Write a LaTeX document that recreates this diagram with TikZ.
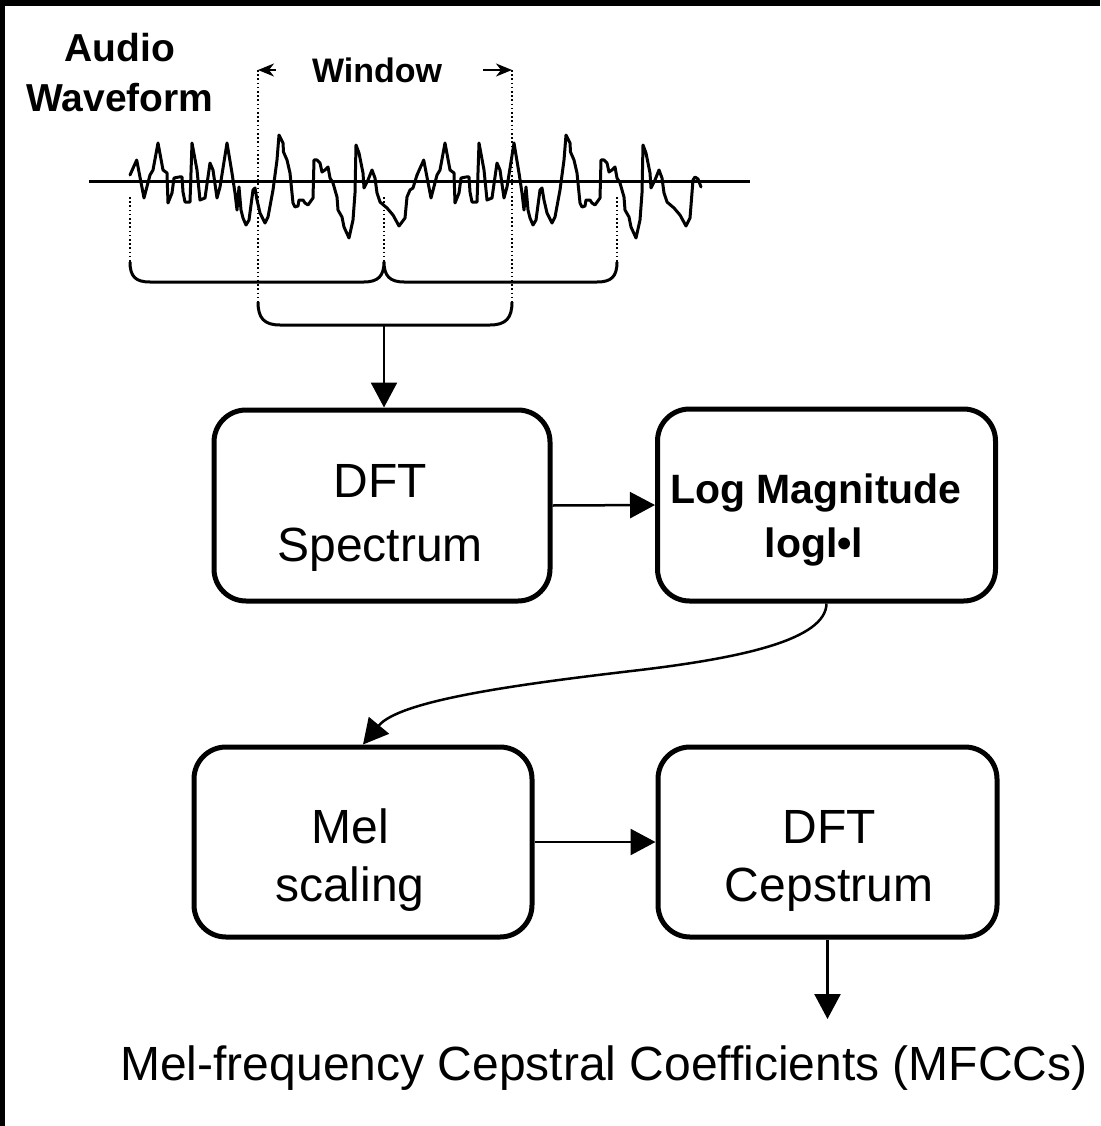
\documentclass[tikz,border=0pt]{standalone}
\usepackage{fontspec}
\setmainfont{Liberation Sans}
\usetikzlibrary{arrows.meta}
\begin{document}
\begin{tikzpicture}[x=1pt,y=-1pt,
  box/.style={draw, line width=5pt, rounded corners=32pt, inner sep=0pt},
  reg/.style={inner sep=0pt, font=\fontsize{48}{56}\selectfont},
  boldbig/.style={inner sep=0pt, font=\fontsize{39}{46}\selectfont\bfseries},
  boldmid/.style={inner sep=0pt, font=\fontsize{41}{48}\selectfont\bfseries},
  boldsmall/.style={inner sep=0pt, font=\fontsize{34}{40}\selectfont\bfseries},
  conn/.style={line width=2.5pt, -{Triangle[length=25pt,width=26pt]}},
  warrow/.style={line width=2pt, -{Stealth[length=16pt,width=13pt,inset=5pt]}},
  wave/.style={line width=3pt, line join=round, line cap=round},
  bracepath/.style={line width=3pt, line join=round},
  dotline/.style={line width=2.2pt, dash pattern=on 1.6pt off 2.6pt}]

\useasboundingbox (0,0) rectangle (1100,1126);
\fill[white] (0,0) rectangle (1100,1126);
\fill[black] (0,0) rectangle (1100,6);
\fill[black] (0,0) rectangle (5,1126);

% titles
\node[boldbig, anchor=base] (audio) at (120,62) {Audio};
\node[boldbig, anchor=base] (wavef) at (120,112) {Waveform};
\node[boldsmall, anchor=base] (window) at (377,83) {Window};

% window arrows
\coordinate (wl) at (258,70);
\coordinate (wr) at (512,70);
\draw[warrow] (276,70) -- (wl);
\draw[warrow] (483,70) -- (wr);

% dotted guide lines
\draw[dotline] (wl) -- (258,302);
\draw[dotline] (wr) -- (512,302);
\draw[dotline] (130,197) -- (130,262);
\draw[dotline] (384,197) -- (384,262);
\draw[dotline] (617,197) -- (617,262);

% baseline
\draw[line width=3pt] (89,182) -- (750,182);

% waveform first copy
\draw[wave] (130,175) -- (136.7,160) -- (144,198) -- (150,175) -- (153,170) -- (158,143) -- (163,170) -- (167,173) -- (168,203) -- (172,193) -- (174,178) -- (179,177) -- (182,177) -- (183,192) -- (185,202) -- (190,202) -- (192,143) -- (197,170) -- (200,200) -- (205,198) -- (210,163) -- (213,170) -- (217,198) -- (220,187) -- (227,143) -- (232,173) -- (235,193) -- (237,210) -- (239,187) -- (241,210) -- (243,218) -- (246,225) -- (249,220) -- (253,190) -- (255,188) -- (257,200) -- (260,213) -- (265,223) -- (268,217) -- (273,190) -- (277,160) -- (279,135) -- (283,143) -- (283.5,152) -- (287,160) -- (290,173) -- (293,203) -- (295,207) -- (298,206) -- (299,200) -- (303,200) -- (305,203) -- (308,205) -- (313,198) -- (314,160) -- (317,160) -- (320,163) -- (322,172) -- (325,170) -- (328,167) -- (330,178) -- (333,183) -- (337,197) -- (338,210) -- (342,217) -- (344,227) -- (349,238) -- (353,220) -- (355,193) -- (356,145) -- (359,153) -- (363,173) -- (364,188) -- (368,180) -- (372,170) -- (375,178) -- (377,193) -- (380,202) -- (387,208) -- (393,215) -- (399,226) -- (405,218) -- (407,197) -- (410,190) -- (413,188) -- (417,175);
% waveform second copy
\begin{scope}[xshift=287pt]
\draw[wave] (130,175) -- (136.7,160) -- (144,198) -- (150,175) -- (153,170) -- (158,143) -- (163,170) -- (167,173) -- (168,203) -- (172,193) -- (174,178) -- (179,177) -- (182,177) -- (183,192) -- (185,202) -- (190,202) -- (192,143) -- (197,170) -- (200,200) -- (205,198) -- (210,163) -- (213,170) -- (217,198) -- (220,187) -- (227,143) -- (232,173) -- (235,193) -- (237,210) -- (239,187) -- (241,210) -- (243,218) -- (246,225) -- (249,220) -- (253,190) -- (255,188) -- (257,200) -- (260,213) -- (265,223) -- (268,217) -- (273,190) -- (277,160) -- (279,135) -- (283,143) -- (283.5,152) -- (287,160) -- (290,173) -- (293,203) -- (295,207) -- (298,206) -- (299,200) -- (303,200) -- (305,203) -- (308,205) -- (313,198) -- (314,160) -- (317,160) -- (320,163) -- (322,172) -- (325,170) -- (328,167) -- (330,178) -- (333,183) -- (337,197) -- (338,210) -- (342,217) -- (344,227) -- (349,238) -- (353,220) -- (355,193) -- (356,145) -- (359,153) -- (363,173) -- (364,188) -- (368,180) -- (372,170) -- (375,178) -- (377,193) -- (380,202) -- (387,208) -- (393,215) -- (399,226) -- (403,218) -- (406,180) -- (408,177) -- (411,179) -- (414,187);
\end{scope}

% braces
\draw[bracepath] (130,262) .. controls (130,277) and (136,282) .. (150,282) -- (364,282) .. controls (378,282) and (384,276) .. (384,262) .. controls (384,276) and (390,282) .. (404,282) -- (597,282) .. controls (611,282) and (617,277) .. (617,262);
\coordinate (b2mid) at (384,325);
\draw[bracepath] (258,302) .. controls (258,318) and (264,325) .. (280,325) -- (490,325) .. controls (506,325) and (512,318) .. (512,302);

% boxes
\node[box, minimum width=336pt, minimum height=191pt] (dft) at (382,505.5) {};
\node[box, minimum width=338pt, minimum height=192pt] (logm) at (826.5,505) {};
\node[box, minimum width=338pt, minimum height=190pt] (mel) at (363,842) {};
\node[box, minimum width=339pt, minimum height=190pt] (cep) at (827.5,842) {};

% box texts
\node[reg, anchor=base] (t1) at (380,497) {DFT};
\node[reg, anchor=base] (t2) at (380,561) {Spectrum};
\node[boldmid, anchor=base] (t3) at (816,503) {Log Magnitude};
\node[boldmid, anchor=base] (t4) at (814,557) {logl•l};
\node[reg, anchor=base] (t5) at (350,843) {Mel};
\node[reg, anchor=base] (t6) at (350,901) {scaling};
\node[reg, anchor=base] (t7) at (829,843) {DFT};
\node[reg, anchor=base] (t8) at (829,901) {Cepstrum};
\node[reg, anchor=base] (mfcc) at (604,1080) {Mel-frequency Cepstral Coefficients (MFCCs)};

% connectors
\draw[conn] (b2mid) -- (b2mid |- dft.north);
\draw[conn] (dft.east) -- (logm.west);
\draw[conn] (logm.south) .. controls (826,640) and (740,658) .. (640,670) .. controls (520,684) and (400,700) .. (mel.north);
\draw[conn] (mel.east) -- (cep.west);
\coordinate (outtip) at (829,1019);
\draw[conn] (cep.south) -- (cep.south |- outtip);
\end{tikzpicture}
\end{document}
